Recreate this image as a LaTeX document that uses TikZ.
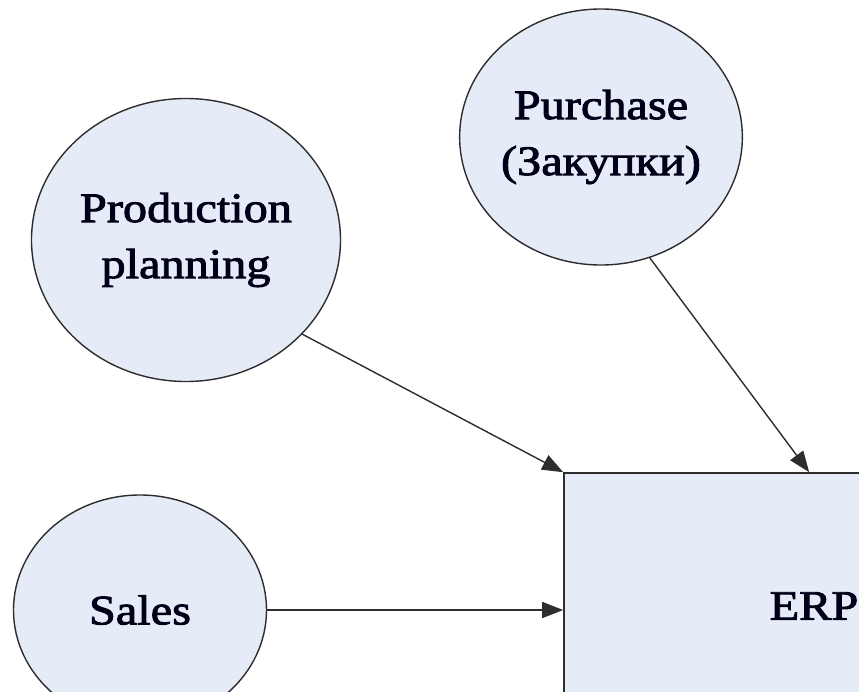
\documentclass[tikz,border=0pt]{standalone}
\usepackage{fontspec}
\setmainfont{Liberation Serif}[FakeStretch=1.15, FakeBold=2.2]
\usetikzlibrary{shapes.geometric,arrows.meta,calc}
\definecolor{paleblue}{RGB}{229,236,247}
\definecolor{inkgray}{RGB}{45,45,45}
\begin{document}
\begin{tikzpicture}[x=1pt,y=-1pt,
  lbl/.style={font=\fontsize{42}{56}\selectfont, text=black!90!blue, align=center},
  bubble/.style={ellipse, draw=inkgray, line width=1.4pt, fill=paleblue, inner sep=0pt, lbl},
  block/.style={rectangle, draw=inkgray, line width=1.6pt, fill=paleblue, inner sep=0pt, lbl},
  link/.style={draw=inkgray, line width=1.4pt, -{Triangle[length=21pt,width=16pt]}}]
\useasboundingbox (0,0) rectangle (859,691);
\clip (0,0) rectangle (859,691);
% input modules
\node[bubble, minimum width=309pt, minimum height=283pt] (prod) at (186,240) {Production\\planning};
\node[bubble, minimum width=278pt, minimum height=256pt] (purch) at (601,137) {Purchase\\(Закупки)};
\node[bubble, minimum width=253pt, minimum height=230pt] (sales) at (140,610) {Sales};
% central system
\node[block, minimum width=500pt, minimum height=266pt] (erp) at (814,606) {ERP};
% flows into the system
\draw[link] (prod.-39.4) -- (erp.north west);
\draw[link] (purch.-68) -- ($(erp.north west)+(246,0)$);
\draw[link] (sales.east) -- (sales.east -| erp.west);
\end{tikzpicture}
\end{document}
